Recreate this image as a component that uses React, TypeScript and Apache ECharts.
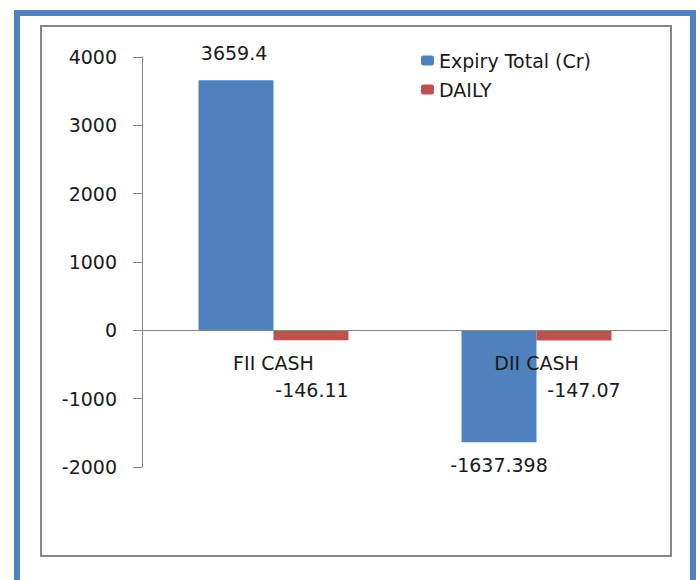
import React, { useEffect, useRef } from "react";
import * as echarts from "echarts";

const categories = ["FII CASH", "DII CASH"];
const expiryTotal = [3659.4, -1637.398];
const daily = [-146.11, -147.07];
const seriesNames = ["Expiry Total (Cr)", "DAILY"];
const yMin = -2000;
const yMax = 4000;
const yInterval = 1000;

const FONT = "DejaVu Sans";
const TEXT = "#1a1a1a";

export default function App() {
  const ref = useRef<HTMLDivElement>(null);
  useEffect(() => {
    document.body.style.margin = "0";
    const chart = echarts.init(ref.current!, null, { renderer: "svg" });
    const expLabels = [
      { position: "top", distance: 18, offset: [-2, 0] },
      { position: "bottom", distance: 13, offset: [0, 0] },
    ];
    const dailyLabels = [
      { position: "bottom", distance: 40, offset: [1, 0] },
      { position: "bottom", distance: 40, offset: [10, 0] },
    ];
    const labelBase = { show: true, color: TEXT, fontFamily: FONT, fontSize: 19 };
    chart.setOption({
      animation: false,
      backgroundColor: "#ffffff",
      textStyle: { fontFamily: FONT },
      graphic: [
        {
          type: "rect",
          shape: { x: 17, y: 13, width: 676, height: 620 },
          style: { fill: "none", stroke: "#4f81bd", lineWidth: 6 },
          silent: true,
        },
        {
          type: "rect",
          shape: { x: 41, y: 26, width: 630, height: 530 },
          style: { fill: "none", stroke: "#868686", lineWidth: 2 },
          silent: true,
        },
      ],
      legend: {
        orient: "vertical",
        left: 416,
        top: 46,
        itemWidth: 13,
        itemHeight: 10,
        itemGap: 10,
        textStyle: { color: TEXT, fontFamily: FONT, fontSize: 19 },
        data: seriesNames,
      },
      grid: { left: 142, right: 28, top: 57, bottom: 113, containLabel: false },
      xAxis: {
        type: "category",
        data: categories,
        z: 5,
        offset: -137,
        axisLine: { onZero: false, lineStyle: { color: "#868686", width: 1 } },
        axisTick: { show: false },
        axisLabel: { color: TEXT, fontFamily: FONT, fontSize: 19, margin: 23 },
      },
      yAxis: {
        type: "value",
        min: yMin,
        max: yMax,
        interval: yInterval,
        splitLine: { show: false },
        axisLine: { show: true, lineStyle: { color: "#868686", width: 1 } },
        axisTick: { show: true, length: 9, lineStyle: { color: "#868686" } },
        axisLabel: {
          color: TEXT,
          fontFamily: FONT,
          fontSize: 19,
          margin: 25,
          formatter: (v: number) => String(v),
        },
      },
      series: [
        {
          name: seriesNames[0],
          type: "bar",
          barGap: "0%",
          barCategoryGap: "43%",
          itemStyle: { color: "#4f81bd" },
          data: expiryTotal.map((v, i) => ({
            value: v,
            label: { ...labelBase, ...expLabels[i] },
          })),
        },
        {
          name: seriesNames[1],
          type: "bar",
          barGap: "0%",
          barCategoryGap: "43%",
          itemStyle: { color: "#c0504d" },
          data: daily.map((v, i) => ({
            value: v,
            label: { ...labelBase, ...dailyLabels[i] },
          })),
        },
      ],
    });
    return () => chart.dispose();
  }, []);
  return <div ref={ref} style={{ width: 696, height: 580 }} />;
}
